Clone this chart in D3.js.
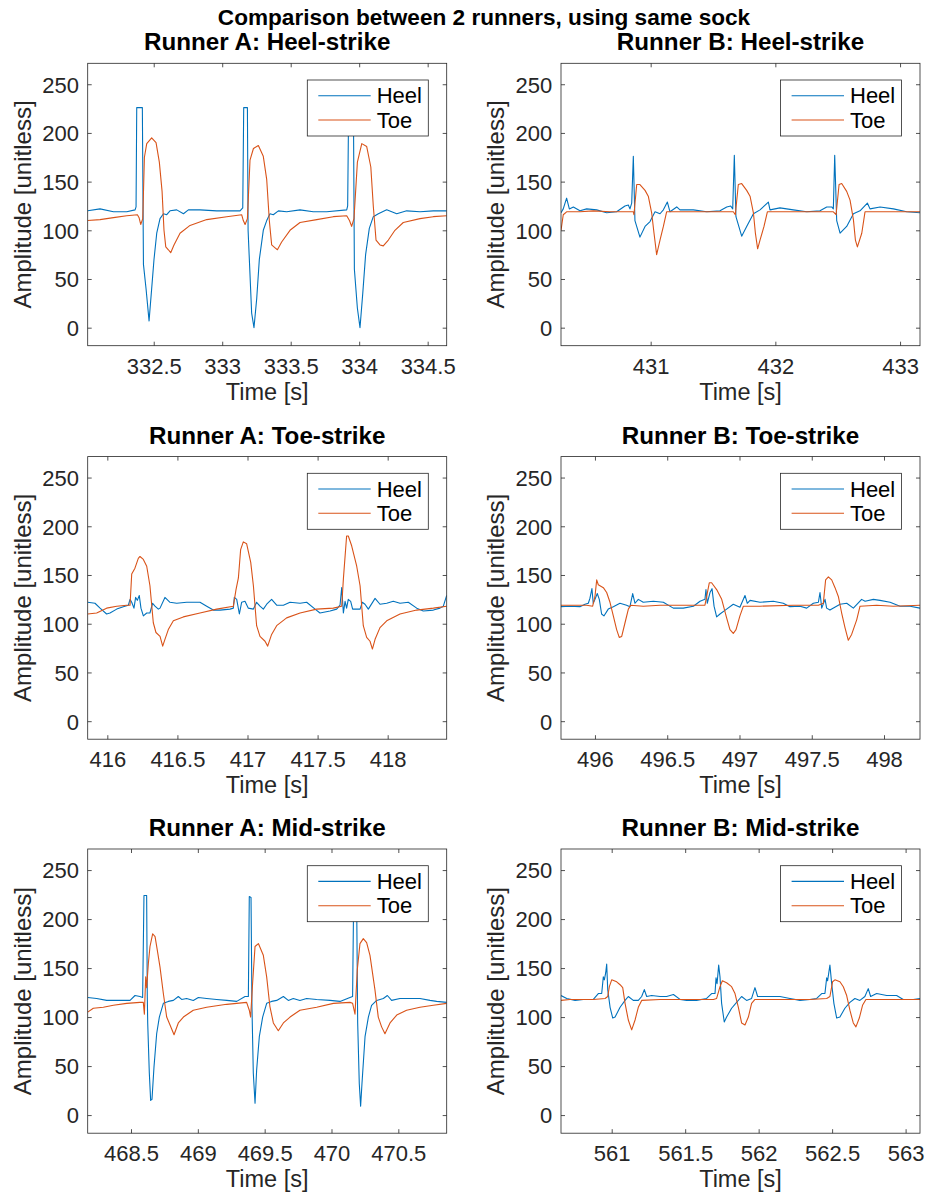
<!DOCTYPE html>
<html>
<head>
<meta charset="utf-8">
<script src="https://cdn.jsdelivr.net/npm/d3@7/dist/d3.min.js"></script>
<style>
  html, body { margin: 0; padding: 0; background: #ffffff; }
  svg { display: block; }
  text { font-family: "Liberation Sans", Arial, Helvetica, sans-serif; }
</style>
</head>
<body>
<svg id="chart" width="925" height="1194"></svg>
<script>
// ---------------- DATA ----------------
const mainTitle = "Comparison between 2 runners, using same sock";
const seriesNames = ["Heel", "Toe"];
const panelTitles = ["Runner A: Heel-strike", "Runner B: Heel-strike",
                     "Runner A: Toe-strike", "Runner B: Toe-strike",
                     "Runner A: Mid-strike", "Runner B: Mid-strike"];
const xDomains = [[332.018, 334.639], [430.281, 433.160], [415.860, 418.421],
                  [495.765, 498.249], [468.176, 470.862], [560.655, 563.098]];
const xTicks = [[332.5, 333, 333.5, 334, 334.5], [431, 432, 433],
                [416, 416.5, 417, 417.5, 418], [496, 496.5, 497, 497.5, 498],
                [468.5, 469, 469.5, 470, 470.5], [561, 561.5, 562, 562.5, 563]];
const yDomain = [-18.5, 271.5];
const yTicks = [0, 50, 100, 150, 200, 250];
const xLabel = "Time [s]";
const yLabel = "Amplitude [unitless]";

// Runner A, heel-strike
const aHeelStrikeHeel = [[332.018,120],[332.108,122],[332.206,119],[332.303,119],[332.364,121],[332.371,124],[332.376,226],[332.417,226],[332.425,65],[332.444,40],[332.466,7],[332.485,40],[332.502,70],[332.522,97],[332.546,112],[332.571,117],[332.595,116],[332.619,120],[332.668,121],[332.717,117],[332.753,121],[332.838,121],[332.960,120],[333.130,120],[333.150,123],[333.157,226],[333.184,226],[333.189,100],[333.215,15],[333.232,0],[333.252,30],[333.271,70],[333.300,100],[333.325,110],[333.349,117],[333.373,116],[333.410,120],[333.471,119],[333.568,121],[333.665,119],[333.763,119],[333.909,121],[333.916,125],[333.923,226],[333.958,226],[333.965,60],[333.987,20],[334.006,0],[334.026,35],[334.047,75],[334.074,102],[334.103,114],[334.140,117],[334.201,121],[334.274,117],[334.347,120],[334.444,119],[334.541,120],[334.639,120]];
const aHeelStrikeToe = [[332.018,110],[332.108,111],[332.206,113],[332.303,115],[332.381,116],[332.393,113],[332.405,106],[332.420,112],[332.432,175],[332.449,189],[332.485,195],[332.517,190],[332.541,170],[332.561,140],[332.575,100],[332.588,83],[332.607,80],[332.624,77],[332.648,85],[332.692,97],[332.765,105],[332.887,111],[333.033,114],[333.142,116],[333.154,110],[333.167,106],[333.184,112],[333.203,172],[333.228,184],[333.264,187],[333.300,176],[333.325,152],[333.344,110],[333.361,85],[333.386,82],[333.403,80],[333.434,88],[333.495,100],[333.568,108],[333.690,111],[333.811,114],[333.909,115],[333.929,110],[333.945,104],[333.962,112],[333.987,170],[334.019,189],[334.055,186],[334.085,165],[334.103,125],[334.123,90],[334.152,85],[334.176,84],[334.213,90],[334.261,100],[334.322,108],[334.444,112],[334.541,114],[334.639,115]];
// Runner B, heel-strike
const bHeelStrikeHeel = [[430.281,118],[430.299,122],[430.326,133],[430.348,122],[430.380,124],[430.433,120],[430.487,122],[430.567,121],[430.647,118],[430.727,119],[430.794,125],[430.821,126],[430.834,122],[430.848,128],[430.861,176],[430.874,110],[430.914,93],[430.955,104],[430.995,109],[431.035,119],[431.075,117],[431.102,121],[431.134,129],[431.155,119],[431.209,124],[431.235,121],[431.342,121],[431.449,119],[431.556,120],[431.610,124],[431.642,125],[431.658,122],[431.671,177],[431.684,114],[431.730,94],[431.770,104],[431.824,117],[431.877,121],[431.944,129],[431.957,121],[432.037,123],[432.144,121],[432.251,119],[432.358,120],[432.412,124],[432.452,124],[432.465,122],[432.476,177],[432.492,110],[432.519,97],[432.572,104],[432.626,117],[432.679,120],[432.738,128],[432.759,122],[432.840,124],[432.947,122],[433.053,119],[433.160,118]];
const bHeelStrikeToe = [[430.281,100],[430.299,116],[430.326,119],[430.433,119],[430.541,120],[430.674,119],[430.808,119],[430.861,119],[430.866,116],[430.888,147],[430.914,147],[430.955,141],[430.981,135],[431.008,118],[431.027,97],[431.048,75],[431.075,90],[431.102,104],[431.128,119],[431.209,119],[431.342,119],[431.556,119],[431.663,119],[431.679,116],[431.703,147],[431.730,148],[431.770,141],[431.797,135],[431.824,118],[431.840,97],[431.858,81],[431.877,90],[431.909,104],[431.936,119],[432.144,119],[432.358,119],[432.465,119],[432.487,116],[432.511,147],[432.532,148],[432.572,140],[432.599,131],[432.626,111],[432.642,90],[432.658,83],[432.693,97],[432.719,119],[432.947,119],[433.160,119]];
// Runner A, toe-strike
const aToeStrikeHeel = [[415.860,122],[415.912,121],[415.948,116],[415.995,110],[416.019,111],[416.067,115],[416.114,117.5],[416.150,119],[416.162,125],[416.174,122],[416.190,116],[416.202,127],[416.214,124],[416.228,129],[416.240,116],[416.257,108],[416.281,111],[416.304,111],[416.323,121],[416.340,118],[416.364,115],[416.376,116],[416.411,127],[416.447,122],[416.495,121],[416.566,122],[416.661,122],[416.709,118],[416.756,114],[416.804,114],[416.875,115],[416.899,116],[416.906,127],[416.923,125],[416.942,110],[416.958,122],[416.982,123],[417.006,116],[417.042,115],[417.065,122],[417.089,118],[417.113,115],[417.137,120],[417.172,125],[417.208,119],[417.256,119],[417.303,122],[417.375,121],[417.422,122],[417.482,115],[417.517,111],[417.589,113],[417.636,115],[417.660,119],[417.672,137],[417.684,111],[417.696,123],[417.707,116],[417.719,125],[417.736,123],[417.750,115],[417.779,115],[417.803,115],[417.819,122],[417.838,120],[417.862,115],[417.910,126],[417.945,120],[417.993,121],[418.040,123],[418.088,121],[418.147,122],[418.207,116],[418.254,113],[418.326,114],[418.373,116],[418.397,118],[418.421,129]];
const aToeStrikeToe = [[415.860,110],[415.924,111],[415.995,116],[416.067,118],[416.138,119],[416.162,119],[416.174,151],[416.197,157],[416.221,167],[416.233,169],[416.257,166],[416.281,159],[416.304,139],[416.328,101],[416.347,91],[416.376,87],[416.395,77],[416.411,84],[416.435,94],[416.471,103],[416.542,107],[416.661,111],[416.780,115],[416.899,118],[416.918,135],[416.935,147],[416.951,176],[416.970,184],[416.994,182],[417.023,163],[417.042,139],[417.065,98],[417.089,87],[417.125,82],[417.144,77],[417.172,89],[417.208,98],[417.279,106],[417.375,111],[417.493,115],[417.612,116],[417.672,118],[417.684,146],[417.707,190],[417.719,190],[417.743,180],[417.779,159],[417.803,139],[417.826,98],[417.850,86],[417.874,82],[417.891,74],[417.910,84],[417.945,96],[417.993,103],[418.088,110],[418.207,114],[418.326,116],[418.421,118]];
// Runner B, toe-strike
const bToeStrikeHeel = [[495.765,117.5],[495.827,118],[495.896,117.5],[495.931,120],[495.954,121],[495.965,126],[495.979,136],[495.988,121],[496.000,125],[496.016,131],[496.030,125],[496.046,110],[496.062,108],[496.092,115],[496.127,117.5],[496.173,121],[496.219,119],[496.242,117.5],[496.261,131],[496.277,121],[496.300,125],[496.334,122],[496.404,123],[496.473,122],[496.542,116],[496.611,116],[496.681,118],[496.727,123],[496.761,125],[496.768,135],[496.777,121],[496.796,132],[496.810,136],[496.824,118],[496.842,107],[496.865,110],[496.911,115],[496.957,120],[497.003,117],[497.038,129],[497.054,121],[497.073,124],[497.142,122],[497.234,123],[497.303,121],[497.349,117.5],[497.419,118],[497.465,116],[497.511,121],[497.546,122],[497.557,132],[497.569,116],[497.592,125],[497.603,116],[497.626,114],[497.696,120],[497.742,121],[497.788,116],[497.845,125],[497.869,123],[497.926,125],[497.972,124],[498.042,122],[498.111,118],[498.180,118],[498.249,116]];
const bToeStrikeToe = [[495.765,119],[495.850,119],[495.942,119],[495.984,118],[496.000,128],[496.012,145],[496.023,140],[496.058,137],[496.081,132],[496.104,122],[496.127,108],[496.150,94],[496.168,86],[496.185,87],[496.208,101],[496.231,115],[496.247,119],[496.334,118],[496.450,119],[496.565,119],[496.681,119],[496.761,119],[496.773,128],[496.791,142],[496.807,142],[496.842,135],[496.877,125],[496.911,106],[496.934,94],[496.957,90],[496.976,94],[497.003,108],[497.027,118],[497.142,118],[497.373,119],[497.546,119],[497.580,121],[497.596,145],[497.615,148],[497.638,145],[497.661,137],[497.684,128],[497.707,111],[497.730,96],[497.753,83],[497.776,89],[497.811,104],[497.834,118],[497.949,119],[498.065,118],[498.249,119]];
// Runner A, mid-strike
const aMidStrikeHeel = [[468.176,120],[468.243,119],[468.318,117],[468.368,117],[468.418,117],[468.493,117],[468.530,122],[468.567,121],[468.587,120],[468.597,224],[468.617,224],[468.622,120],[468.625,94],[468.637,43],[468.647,15],[468.657,16],[468.672,49],[468.692,83],[468.712,100],[468.742,114],[468.779,116],[468.817,117],[468.854,121],[468.879,118],[468.916,119],[468.966,117],[469.004,120],[469.066,119],[469.141,118],[469.216,117],[469.291,116],[469.353,121],[469.378,121],[469.385,223],[469.398,222],[469.405,110],[469.415,43],[469.428,12],[469.440,46],[469.460,80],[469.485,100],[469.515,114],[469.552,116],[469.590,117],[469.640,121],[469.677,117],[469.714,119],[469.764,117],[469.814,119],[469.889,118],[469.989,117],[470.064,116],[470.138,120],[470.158,121],[470.166,223],[470.188,223],[470.196,94],[470.208,32],[470.218,9],[470.228,32],[470.251,80],[470.276,100],[470.300,112],[470.338,117],[470.388,119],[470.418,122],[470.450,117],[470.512,119],[470.587,119],[470.662,119],[470.737,117],[470.787,116],[470.862,115]];
const aMidStrikeToe = [[468.176,105],[468.218,109],[468.293,110],[468.368,112],[468.468,114],[468.567,115],[468.592,115],[468.600,103],[468.610,141],[468.617,130],[468.630,155],[468.642,172],[468.662,185],[468.680,182],[468.697,168],[468.717,151],[468.742,124],[468.767,100],[468.792,92],[468.822,82],[468.854,94],[468.892,100],[468.966,107],[469.066,110],[469.216,113],[469.365,115],[469.385,107],[469.395,100],[469.410,135],[469.428,172],[469.453,175],[469.490,163],[469.515,141],[469.539,111],[469.565,94],[469.602,86],[469.640,94],[469.690,100],[469.764,107],[469.889,110],[470.014,114],[470.138,115],[470.158,114],[470.176,103],[470.193,148],[470.213,175],[470.238,180],[470.263,176],[470.288,163],[470.325,128],[470.350,100],[470.375,90],[470.400,83],[470.438,94],[470.488,102],[470.562,107],[470.662,110],[470.762,112],[470.862,114]];
// Runner B, mid-strike
const bMidStrikeHeel = [[560.655,122],[560.694,119],[560.751,117],[560.807,118],[560.875,118],[560.909,124],[560.932,124],[560.943,141],[560.950,138],[560.959,145],[560.966,154],[560.973,128],[560.989,110],[561.007,99],[561.023,100],[561.057,110],[561.091,117],[561.113,121],[561.147,117],[561.181,117],[561.204,121],[561.222,128],[561.238,121],[561.272,122],[561.329,121],[561.374,121],[561.420,123],[561.465,118],[561.510,117],[561.578,117],[561.646,119],[561.680,124],[561.703,124],[561.710,140],[561.717,134],[561.728,153],[561.737,141],[561.748,114],[561.766,95],[561.782,100],[561.816,109],[561.850,115],[561.884,121],[561.918,117],[561.952,119],[561.975,130],[561.993,121],[562.032,121],[562.088,121],[562.145,121],[562.213,119],[562.281,117],[562.349,118],[562.395,119],[562.429,124],[562.451,124],[562.463,140],[562.469,137],[562.485,153],[562.497,134],[562.512,114],[562.531,99],[562.553,100],[562.587,109],[562.621,115],[562.655,119],[562.689,117],[562.723,121],[562.746,129],[562.762,121],[562.803,124],[562.871,122],[562.939,122],[562.984,118],[563.052,118],[563.098,119]];
const bMidStrikeToe = [[560.655,117],[560.717,118],[560.785,118],[560.875,118],[560.955,119],[560.973,121],[560.984,131],[561.000,138],[561.034,136],[561.057,133],[561.075,130],[561.091,114],[561.113,97],[561.136,87],[561.159,97],[561.181,110],[561.204,117],[561.329,118],[561.510,118],[561.692,118],[561.714,119],[561.737,131],[561.753,137],[561.782,135],[561.816,131],[561.839,124],[561.862,110],[561.884,94],[561.907,92],[561.930,100],[561.952,114],[561.975,118],[562.122,118],[562.349,118],[562.463,119],[562.485,121],[562.503,136],[562.519,138],[562.553,136],[562.576,131],[562.599,122],[562.621,107],[562.644,94],[562.662,90],[562.685,99],[562.707,112],[562.730,118],[562.916,118],[563.098,118]];

const panelSeries = [
  [aHeelStrikeHeel, aHeelStrikeToe], [bHeelStrikeHeel, bHeelStrikeToe],
  [aToeStrikeHeel, aToeStrikeToe],   [bToeStrikeHeel, bToeStrikeToe],
  [aMidStrikeHeel, aMidStrikeToe],   [bMidStrikeHeel, bMidStrikeToe]
];

// ---------------- LAYOUT / STYLE ----------------
const colors = ["#0072BD", "#D95319"];
const axisColor = "#262626";
const colX = [87.7, 561];
const plotW = 359;
const rowY = [63.3, 456.6, 849];
const rowH = [282.4, 282.6, 284.2];
const tickLen = 4;

const svg = d3.select("#chart");

svg.append("text")
  .attr("x", 484).attr("y", 25)
  .attr("text-anchor", "middle")
  .attr("font-size", 22.6).attr("font-weight", "bold").attr("fill", "#000")
  .text(mainTitle);

panelTitles.forEach((title, i) => {
  const col = i % 2, row = Math.floor(i / 2);
  const x0 = colX[col], y0 = rowY[row], w = plotW, h = rowH[row];
  const x = d3.scaleLinear().domain(xDomains[i]).range([x0, x0 + w]);
  const y = d3.scaleLinear().domain(yDomain).range([y0 + h, y0]);

  const g = svg.append("g");

  g.append("rect").attr("x", x0).attr("y", y0).attr("width", w).attr("height", h)
    .attr("fill", "#fff");

  const cid = "clip" + i;
  svg.append("defs").append("clipPath").attr("id", cid)
    .append("rect").attr("x", x0).attr("y", y0).attr("width", w).attr("height", h);

  const line = d3.line().x(d => x(d[0])).y(d => y(d[1]));
  const lg = g.append("g").attr("clip-path", `url(#${cid})`);
  panelSeries[i].forEach((s, k) => {
    lg.append("path").datum(s)
      .attr("d", line)
      .attr("fill", "none")
      .attr("stroke", colors[k])
      .attr("stroke-width", 1.1)
      .attr("stroke-linejoin", "round");
  });

  const fmt = v => String(v);
  const bottom = g.append("g").attr("transform", `translate(0,${y0 + h})`)
    .call(d3.axisBottom(x).tickValues(xTicks[i]).tickSizeInner(-tickLen).tickSizeOuter(0).tickFormat(fmt));
  const top = g.append("g").attr("transform", `translate(0,${y0})`)
    .call(d3.axisTop(x).tickValues(xTicks[i]).tickSizeInner(-tickLen).tickSizeOuter(0).tickFormat(""));
  const left = g.append("g").attr("transform", `translate(${x0},0)`)
    .call(d3.axisLeft(y).tickValues(yTicks).tickSizeInner(-tickLen).tickSizeOuter(0).tickFormat(fmt));
  const right = g.append("g").attr("transform", `translate(${x0 + w},0)`)
    .call(d3.axisRight(y).tickValues(yTicks).tickSizeInner(-tickLen).tickSizeOuter(0).tickFormat(""));
  [bottom, top, left, right].forEach(a => {
    a.select(".domain").remove();
    a.selectAll(".tick line").attr("stroke", axisColor).attr("stroke-width", 0.8);
    a.selectAll(".tick text").attr("fill", axisColor).attr("font-size", 22)
      .attr("font-family", '"Liberation Sans", Arial, Helvetica, sans-serif');
  });
  bottom.selectAll(".tick text").attr("dy", null).attr("y", 28);
  left.selectAll(".tick text").attr("x", -8.7).attr("dy", "0.36em");

  g.append("rect").attr("x", x0).attr("y", y0).attr("width", w).attr("height", h)
    .attr("fill", "none").attr("stroke", axisColor).attr("stroke-width", 0.8);

  g.append("text").attr("x", x0 + w / 2).attr("y", y0 + h + 54)
    .attr("text-anchor", "middle").attr("font-size", 23.5).attr("fill", axisColor)
    .text(xLabel);
  g.append("text")
    .attr("transform", `translate(${x0 - 57},${y0 + h / 2}) rotate(-90)`)
    .attr("text-anchor", "middle").attr("font-size", 24).attr("fill", axisColor)
    .text(yLabel);
  g.append("text").attr("x", x0 + w / 2).attr("y", y0 - 13)
    .attr("text-anchor", "middle").attr("font-size", 24.2).attr("font-weight", "bold")
    .attr("fill", "#000").text(title);

  const lx = x0 + w - 139.4, ly = y0 + 16.7, lw = 121, lh = 56;
  const leg = g.append("g");
  leg.append("rect").attr("x", lx).attr("y", ly).attr("width", lw).attr("height", lh)
    .attr("fill", "#fff").attr("stroke", axisColor).attr("stroke-width", 0.8);
  seriesNames.forEach((name, k) => {
    const yy = ly + 15.7 + k * 24.3;
    leg.append("line").attr("x1", lx + 11).attr("x2", lx + 63.4)
      .attr("y1", yy).attr("y2", yy)
      .attr("stroke", colors[k]).attr("stroke-width", 1.1);
    leg.append("text").attr("x", lx + 69.4).attr("y", yy + 7.6)
      .attr("font-size", 22).attr("fill", "#000").text(name);
  });
});
</script>
</body>
</html>
